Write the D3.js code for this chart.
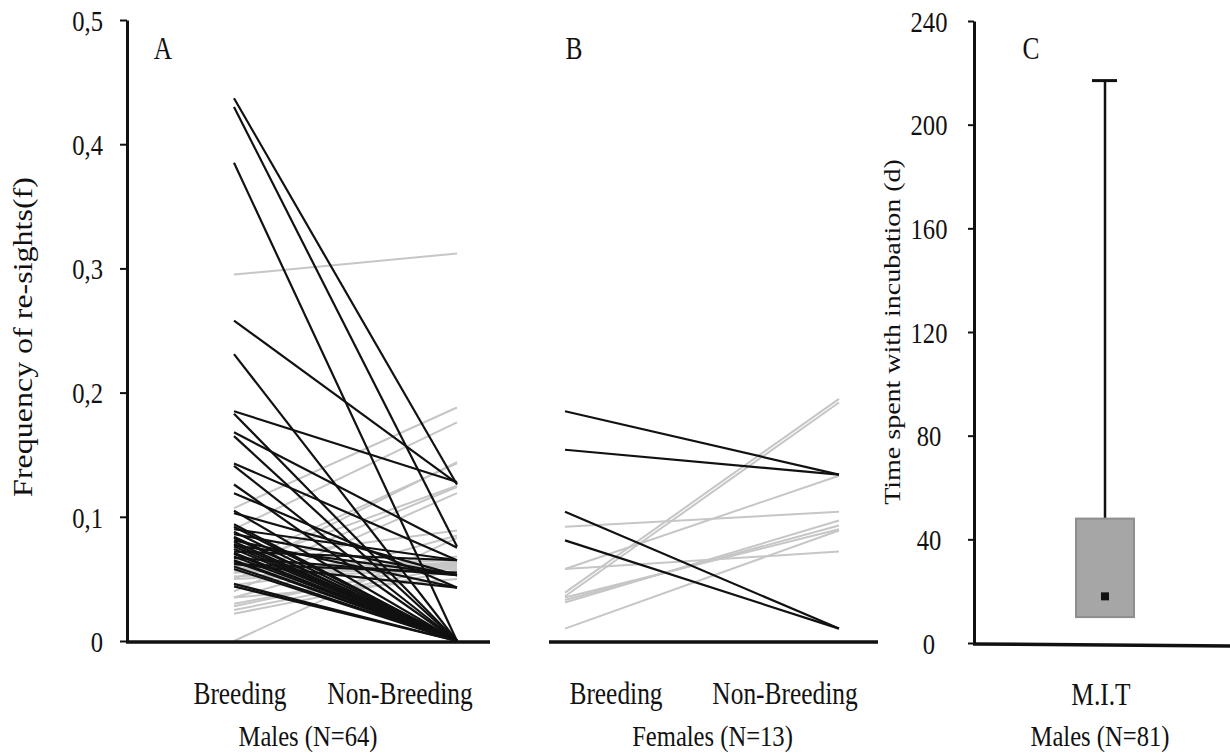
<!DOCTYPE html>
<html>
<head>
<meta charset="utf-8">
<script src="https://cdn.jsdelivr.net/npm/d3@7"></script>
<style>
  body { margin: 0; background: #fff; }
  svg text { font-family: "Liberation Serif", "Times New Roman", serif; fill: #111; }
</style>
</head>
<body>
<div id="chart"></div>
<script>
// Re-sight frequencies, breeding vs non-breeding (one pair per bird)
var seasons = ["Breeding", "Non-Breeding"];

var maleBreeding = [
    0.437, 0.430, 0.385, 0.258, 0.231, 0.185, 0.183, 0.168, 0.165, 0.143,
    0.141, 0.126, 0.119, 0.105, 0.103, 0.094, 0.092, 0.090, 0.088, 0.086,
    0.084, 0.083, 0.081, 0.080, 0.078, 0.077, 0.076, 0.074, 0.072, 0.071,
    0.070, 0.068, 0.067, 0.065, 0.064, 0.062, 0.060, 0.058, 0.046, 0.044,
    0.062,
    0.295, 0.107, 0.090, 0.055, 0.062, 0.060, 0.050, 0.040, 0.065, 0.035,
    0.000, 0.058, 0.055, 0.052, 0.050, 0.030, 0.025, 0.022, 0.028, 0.045,
    0.035, 0.060, 0.057
];
var maleNonBreeding = [
    0.126, 0.076, 0.000, 0.127, 0.000, 0.128, 0.000, 0.075, 0.000, 0.065,
    0.000, 0.000, 0.043, 0.000, 0.053, 0.000, 0.000, 0.065, 0.000, 0.053,
    0.000, 0.000, 0.043, 0.000, 0.000, 0.053, 0.000, 0.000, 0.065, 0.000,
    0.000, 0.000, 0.053, 0.000, 0.000, 0.043, 0.000, 0.000, 0.000, 0.000,
    0.055,
    0.312, 0.188, 0.176, 0.144, 0.143, 0.125, 0.124, 0.119, 0.089, 0.085,
    0.083, 0.063, 0.062, 0.060, 0.058, 0.063, 0.060, 0.057, 0.065, 0.068,
    0.050, 0.065, 0.061
];

var femaleBreeding    = [0.185, 0.154, 0.104, 0.081, 0.092, 0.058, 0.058, 0.039, 0.036, 0.031, 0.033, 0.035, 0.010];
var femaleNonBreeding = [0.134, 0.134, 0.010, 0.010, 0.104, 0.133, 0.072, 0.195, 0.192, 0.097, 0.093, 0.090, 0.089];

var freqTicks = [0, 0.1, 0.2, 0.3, 0.4, 0.5];

// Male incubation time (days), box summary
var mitCategory = ["M.I.T"];
var mitQ1 = [10];
var mitQ3 = [48];
var mitMedian = [18];
var mitMax = [217];
var dayTicks = [0, 40, 80, 120, 160, 200, 240];

var W = 1230, H = 755;
var BLACK = "#111", GREY = "#c6c6c6";

var svg = d3.select("#chart").append("svg")
    .attr("width", W)
    .attr("height", H);

/**
 * Times-like text, squeezed horizontally like the original figure
 */
function label(g, x, y, str, size, anchor, sx) {
    return g.append("text")
        .attr("transform", "translate(" + x + "," + y + ") scale(" + (sx || 0.82) + ",1)")
        .attr("text-anchor", anchor || "middle")
        .style("font-size", size + "px")
        .text(str);
}

function styleAxis(g, pad) {
    g.select(".domain").attr("stroke", BLACK).attr("stroke-width", 3);
    g.selectAll(".tick line").attr("stroke", BLACK).attr("stroke-width", 2);
    g.selectAll(".tick text")
        .attr("x", null)
        .attr("dy", "0.34em")
        .attr("transform", "translate(" + (-pad) + ",0) scale(0.82,1)")
        .style("font-size", "30px")
        .attr("fill", BLACK);
}

// shared frequency scale for panels A and B
var yFreq = d3.scaleLinear().domain([0, 0.5]).range([641, 20]);
var commaFmt = function(d) { return d === 0 ? "0" : d3.format(".1f")(d).replace(".", ","); };

/**
 * Paired-line panel: one segment per bird
 */
function pairedPanel(opts) {
    var g = svg.append("g");
    var x = d3.scalePoint().domain(seasons).range(opts.lineRange);
    var xl = d3.scalePoint().domain(seasons).range(opts.labelRange);

    var pairs = opts.breeding.map(function(b, i) {
        return { b: b, nb: opts.nonBreeding[i], up: opts.nonBreeding[i] > b };
    });

    // grey (increase) first, black (decrease) on top
    pairs.sort(function(p, q) { return d3.ascending(q.up, p.up); });

    g.selectAll("line.pair").data(pairs).enter().append("line")
        .attr("class", "pair")
        .attr("x1", x(seasons[0]))
        .attr("x2", x(seasons[1]))
        .attr("y1", function(d) { return yFreq(d.b); })
        .attr("y2", function(d) { return yFreq(d.nb); })
        .attr("stroke", function(d) { return d.up ? GREY : BLACK; })
        .attr("stroke-width", function(d) { return d.up ? 2 : 2.2; });

    // baseline
    g.append("line")
        .attr("x1", opts.axisRange[0]).attr("x2", opts.axisRange[1])
        .attr("y1", yFreq(0) + 1).attr("y2", yFreq(0) + 1)
        .attr("stroke", BLACK).attr("stroke-width", 3.5);

    seasons.forEach(function(s) { label(g, xl(s), 704, s, 31); });
    label(g, d3.mean(opts.labelRange) + opts.groupShift, 746, opts.group, 30);
    label(g, opts.letterX, 59, opts.letter, 31);
    return g;
}

// Panel A - males
pairedPanel({
    breeding: maleBreeding, nonBreeding: maleNonBreeding,
    lineRange: [234, 457], labelRange: [240, 400], axisRange: [126, 490],
    group: "Males (N=64)", groupShift: -12, letter: "A", letterX: 163
});

var axA = svg.append("g")
    .attr("transform", "translate(127,0)")
    .call(d3.axisLeft(yFreq).tickValues(freqTicks).tickFormat(commaFmt).tickSize(7).tickSizeOuter(0));
styleAxis(axA, 24);
axA.selectAll(".tick text").attr("text-anchor", "end");

svg.append("text")
    .attr("transform", "translate(32,337) rotate(-90) scale(1,0.85)")
    .attr("text-anchor", "middle")
    .style("font-size", "32px")
    .text("Frequency of re-sights(f)");

// Panel B - females
pairedPanel({
    breeding: femaleBreeding, nonBreeding: femaleNonBreeding,
    lineRange: [565, 839], labelRange: [616, 785], axisRange: [549, 878],
    group: "Females (N=13)", groupShift: 12, letter: "B", letterX: 574
});

// Panel C - incubation time box
var yDay = d3.scaleLinear().domain([0, 240]).range([643, 21]);
var xC = d3.scalePoint().domain(mitCategory).range([1040, 1170]);
var gC = svg.append("g");

svg.append("line")
    .attr("x1", 973).attr("x2", W)
    .attr("y1", yDay(0) + 1).attr("y2", yDay(0) + 3)
    .attr("stroke", BLACK).attr("stroke-width", 3.5);

var axC = svg.append("g")
    .attr("transform", "translate(974,0)")
    .call(d3.axisLeft(yDay).tickValues(dayTicks).tickSize(6).tickSizeOuter(0));
styleAxis(axC, 45);
axC.selectAll(".tick text").attr("text-anchor", "middle");

var boxW = 58;
mitCategory.forEach(function(c, i) {
    var cx = xC(c);
    gC.append("line")
        .attr("x1", cx).attr("x2", cx)
        .attr("y1", yDay(mitQ3[i])).attr("y2", yDay(mitMax[i]))
        .attr("stroke", BLACK).attr("stroke-width", 2.5);
    gC.append("line")
        .attr("x1", cx - 13).attr("x2", cx + 12)
        .attr("y1", yDay(mitMax[i])).attr("y2", yDay(mitMax[i]))
        .attr("stroke", BLACK).attr("stroke-width", 3);
    gC.append("rect")
        .attr("x", cx - boxW / 2).attr("width", boxW)
        .attr("y", yDay(mitQ3[i])).attr("height", yDay(mitQ1[i]) - yDay(mitQ3[i]))
        .attr("fill", "#a6a6a6").attr("stroke", "#8e8e8e").attr("stroke-width", 2);
    gC.append("rect")
        .attr("x", cx - 4).attr("width", 8)
        .attr("y", yDay(mitMedian[i]) - 4).attr("height", 8)
        .attr("fill", BLACK);
    label(gC, cx - 4, 705, c, 31);
});
label(gC, 1100, 746, "Males (N=81)", 30);
label(gC, 1031, 59, "C", 31);

svg.append("text")
    .attr("transform", "translate(900,332) rotate(-90) scale(1,0.85)")
    .attr("text-anchor", "middle")
    .style("font-size", "28px")
    .text("Time spent with incubation (d)");
</script>
</body>
</html>
